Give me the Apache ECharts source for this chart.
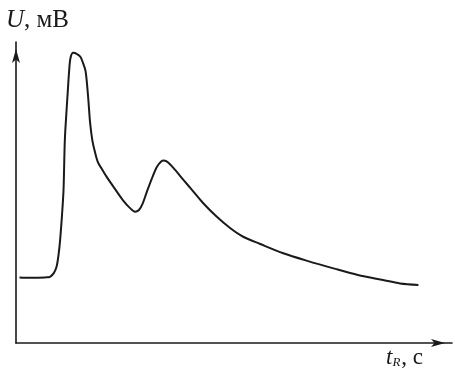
<!DOCTYPE html>
<html>
<head>
<meta charset="utf-8">
<script src="https://cdn.jsdelivr.net/npm/echarts@6/dist/echarts.min.js"></script>
<style>
  html, body { margin: 0; padding: 0; background: #fff; }
  #chart { width: 455px; height: 371px; }
</style>
</head>
<body>
<div id="chart"></div>
<script>
// время (отн. ед.) и сигнал U (отн. ед.)
var tValues = [0.8, 3.2, 6.7, 7.8, 8.7, 9.3, 9.75, 10.1, 10.55, 10.9, 11.2, 11.6, 11.9, 12.2, 12.5,
	13.1, 14.0, 14.8, 15.4, 15.9, 16.2, 16.6, 17.0, 17.5, 18.1, 18.8, 19.7, 20.8, 22.7, 24.5,
	26.1, 27.3, 28.2, 29.1, 30.0, 31.2, 32.3, 33.3, 33.9, 34.9, 36.5, 38.4, 40.4, 42.9, 46.0,
	49.1, 52.1, 56.0, 61.3, 67.0, 72.8, 78.4, 84.2, 88.1, 92.3];
var uValues = [21.8, 21.7, 21.8, 22.0, 23.3, 25.3, 29.2, 33.9, 42.5, 50.8, 67.4, 77.4, 84.1, 90.7, 94.7,
	96.4, 96.0, 95.0, 92.9, 90.7, 87.4, 80.7, 73.1, 67.4, 63.5, 60.0, 57.8, 55.2, 51.2, 47.5,
	44.9, 43.6, 44.2, 46.5, 50.2, 54.8, 58.5, 60.3, 60.6, 60.0, 57.5, 54.2, 50.8, 46.5, 42.0,
	38.2, 35.3, 32.9, 29.8, 27.2, 24.8, 22.6, 20.9, 19.8, 19.3];
var tRange = [0, 100];
var uRange = [0, 100];

var seriesData = [];
for (var i = 0; i < tValues.length; i++) {
	seriesData.push([tValues[i], uValues[i]]);
}

var axisLineStyle = {
	show: true,
	symbol: ['none', 'arrow'],
	symbolSize: [6, 14],
	symbolOffset: [0, -7],
	lineStyle: { color: '#1a1a1a', width: 1.6 }
};

var chart = echarts.init(document.getElementById('chart'));
chart.setOption({
	animation: false,
	grid: { left: 16, right: 3, top: 42, bottom: 28 },
	xAxis: {
		type: 'value',
		min: tRange[0], max: tRange[1],
		axisLine: axisLineStyle,
		axisTick: { show: false },
		axisLabel: { show: false },
		splitLine: { show: false }
	},
	yAxis: {
		type: 'value',
		min: uRange[0], max: uRange[1],
		axisLine: axisLineStyle,
		axisTick: { show: false },
		axisLabel: { show: false },
		splitLine: { show: false }
	},
	graphic: [
		{
			type: 'text', left: 6, top: 8,
			style: {
				text: '{i|U}, мВ',
				font: '25px "Liberation Serif"',
				fill: '#1a1a1a',
				rich: { i: { fontStyle: 'italic', fontSize: 25, fontFamily: 'Liberation Serif' } }
			}
		},
		{
			type: 'text', left: 386, top: 346,
			style: {
				text: '{i|t}{s|R}, с',
				font: '23px "Liberation Serif"',
				fill: '#1a1a1a',
				rich: {
					i: { fontStyle: 'italic', fontSize: 23, fontFamily: 'Liberation Serif' },
					s: { fontStyle: 'italic', fontSize: 13, fontFamily: 'Liberation Serif', verticalAlign: 'bottom', padding: [9, 1, 0, 0] }
				}
			}
		}
	],
	series: [{
		type: 'line',
		data: seriesData,
		smooth: 0.3,
		symbol: 'none',
		lineStyle: { color: '#1a1a1a', width: 2 }
	}]
});
</script>
</body>
</html>
